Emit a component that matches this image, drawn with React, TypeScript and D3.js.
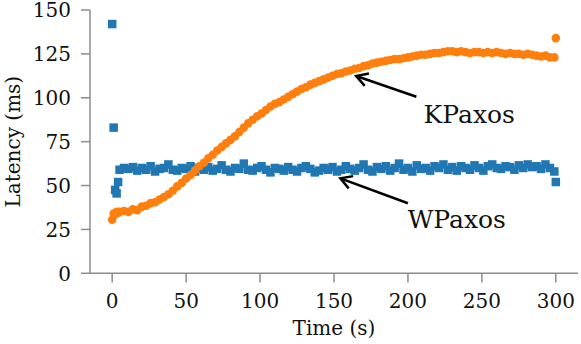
import React from 'react';
import * as d3 from 'd3';

// sample times (s): first seconds one by one, then every 3 s
const times = [0, 1, 2, 3, 4, ...d3.range(5, 300, 3), 300];

const wpaxos = [
  142, 83, 47.5, 45.5, 52,
  59, 60, 59.5, 60.5, 58.5, 60, 59, 61, 58, 59.5,
  60, 62, 59, 58.5, 60, 59.5, 61, 58, 60, 59,
  60.5, 58.5, 59.5, 61.5, 59, 58, 60, 59.5, 62.5, 59,
  58.5, 60, 61, 59, 57.5, 60, 59.5, 58.5, 60.5, 59,
  58, 60, 61, 59.5, 57.5, 58.5, 60, 59, 60.5, 58,
  59, 61, 59.5, 58.5, 60, 62, 59, 58, 60.5, 59.5,
  61, 58.5, 60, 62.5, 59, 60, 58, 61.5, 59.5, 60,
  58.5, 61, 60, 62, 59, 60.5, 58.5, 61, 60, 59,
  61.5, 60, 58.5, 61, 62, 60, 59.5, 61, 60.5, 59,
  61.5, 60, 62, 60.5, 61, 59.5, 62, 60, 58,
  52,
];

const kpaxos = [
  30.5, 34, 33.5, 35, 34.5,
  35, 35.5, 35, 36.5, 36, 38, 38.5, 40, 40.5, 42,
  43.5, 45, 47, 49.5, 51.5, 54, 56, 58.5, 61, 63,
  65.5, 67.5, 70, 72, 74, 76, 78, 80.5, 83, 85.5,
  87.5, 89.5, 91, 93, 95, 96.5, 97.5, 99, 100.5, 102,
  103.5, 105, 106, 107.5, 108.5, 109.5, 110.5, 111.5, 112.5, 113.5,
  114, 115, 115.5, 116.5, 117, 118, 118.5, 119.5, 120, 120.5,
  121, 121.5, 122, 122, 122.5, 123, 123.5, 124, 124.5, 124.5,
  125, 125.5, 125.5, 126, 126.5, 126.5, 126, 126.5, 126, 125.5,
  126, 126, 125.5, 126, 125.5, 126, 125.5, 125, 125.5, 125,
  125, 124.5, 125, 124.5, 124, 123.5, 124, 123, 123,
  134,
];

const xTicks = [0, 50, 100, 150, 200, 250, 300];
const yTicks = [0, 25, 50, 75, 100, 125, 150];

// labels with arrows, in data units
const notes = [
  { text: 'KPaxos', tx: 210.6, ty: 85.4, fromX: 205.7, fromY: 100.6, toX: 165, toY: 112.4 },
  { text: 'WPaxos', tx: 199.8, ty: 25.6, fromX: 200, fromY: 39.9, toX: 154.3, toY: 54.1 },
];

const W = 581, H = 344;
const font = '"DejaVu Serif", serif';
const axisGrey = '#8c8c8c';

export default function App() {
  const x = d3.scaleLinear().domain([-15, 315]).range([90, 578]);
  const y = d3.scaleLinear().domain([0, 150]).range([273.3, 10]);

  const blue = times.map((t, i) => ({ t, v: wpaxos[i] })).filter((d) => d.v !== undefined);
  const orange = times.map((t, i) => ({ t, v: kpaxos[i] })).filter((d) => d.v !== undefined);

  const sq = 8.5;

  return (
    <svg width={W} height={H} style={{ position: 'absolute', left: 0, top: 0, background: '#fff' }}>
      {/* spines */}
      <line x1={x.range()[0]} x2={x.range()[0]} y1={y.range()[0]} y2={y.range()[1]} stroke={axisGrey} strokeWidth={1.5} />
      <line x1={x.range()[0]} x2={x.range()[1]} y1={y.range()[0]} y2={y.range()[0]} stroke={axisGrey} strokeWidth={1.5} />

      {yTicks.map((d) => (
        <g key={'y' + d} transform={`translate(0,${y(d)})`}>
          <line x1={81} x2={90} stroke={axisGrey} strokeWidth={1.5} />
          <text x={71} dy="0.36em" textAnchor="end" fontFamily={font} fontSize={20} fill="#111">{d}</text>
        </g>
      ))}
      {xTicks.map((d) => (
        <g key={'x' + d} transform={`translate(${x(d)},0)`}>
          <line y1={273.3} y2={282.5} stroke={axisGrey} strokeWidth={1.5} />
          <text y={308} textAnchor="middle" fontFamily={font} fontSize={20} fill="#111">{d}</text>
        </g>
      ))}

      <text x={(x.range()[0] + x.range()[1]) / 2} y={335} textAnchor="middle" fontFamily={font} fontSize={20} fill="#111">Time (s)</text>
      <text transform={`translate(20,${(y.range()[0] + y.range()[1]) / 2}) rotate(-90)`} textAnchor="middle" fontFamily={font} fontSize={20} fill="#111">Latency (ms)</text>

      {blue.map((d, i) => (
        <rect key={'b' + i} x={x(d.t) - sq / 2} y={y(d.v) - sq / 2} width={sq} height={sq} fill="#1f77b4" />
      ))}
      {orange.map((d, i) => (
        <circle key={'o' + i} cx={x(d.t)} cy={y(d.v)} r={4.3} fill="#ff7f0e" />
      ))}

      {notes.map((n) => {
        const x0 = x(n.fromX), y0 = y(n.fromY), x1 = x(n.toX), y1 = y(n.toY);
        const ang = Math.atan2(y0 - y1, x0 - x1);
        const len = 13, spread = Math.PI / 6;
        const w1 = [x1 + len * Math.cos(ang - spread), y1 + len * Math.sin(ang - spread)];
        const w2 = [x1 + len * Math.cos(ang + spread), y1 + len * Math.sin(ang + spread)];
        return (
          <g key={n.text}>
            <line x1={x0} y1={y0} x2={x1} y2={y1} stroke="#000" strokeWidth={2.5} />
            <path d={`M${w1[0]},${w1[1]}L${x1},${y1}L${w2[0]},${w2[1]}`} fill="none" stroke="#000" strokeWidth={2.5} />
            <text x={x(n.tx)} y={y(n.ty)} fontFamily={font} fontSize={25} fill="#111">{n.text}</text>
          </g>
        );
      })}
    </svg>
  );
}
